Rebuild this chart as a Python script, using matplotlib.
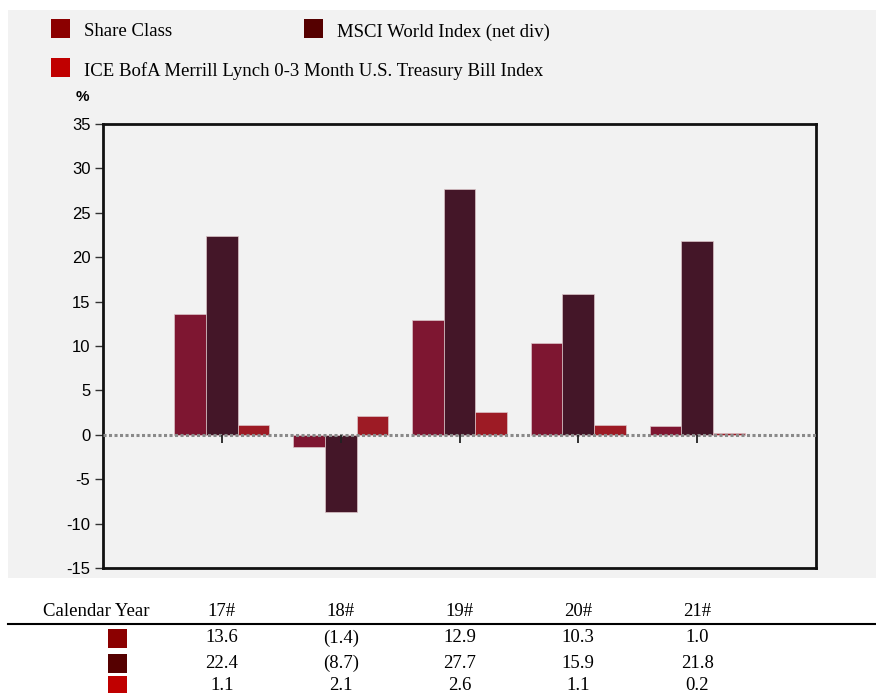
import matplotlib
matplotlib.use("Agg")
import matplotlib.pyplot as plt
import matplotlib.transforms as mtransforms
from matplotlib.patches import Rectangle
from matplotlib.lines import TICKDOWN
import numpy as np

years = ['17#', '18#', '19#', '20#', '21#']
series_names = ['Share Class', 'MSCI World Index (net div)',
                'ICE BofA Merrill Lynch 0-3 Month U.S. Treasury Bill Index']
share_class = [13.6, -1.4, 12.9, 10.3, 1.0]
msci_world = [22.4, -8.7, 27.7, 15.9, 21.8]
ice_tbill = [1.1, 2.1, 2.6, 1.1, 0.2]
y_ticks = [35, 30, 25, 20, 15, 10, 5, 0, -5, -10, -15]

bar_colors = ['#7e1631', '#441628', '#9d1b25']
key_colors = ['#8b0000', '#550000', '#c00000']

W, H = 876, 693
fig = plt.figure(figsize=(W / 100, H / 100), dpi=100)
fig.patch.set_facecolor('white')

def fx(px):
    return px / W

def fy(py):
    return 1 - py / H

# grey panel
fig.patches.append(Rectangle((fx(8), fy(578)), fx(876) - fx(8), fy(10) - fy(578),
                             transform=fig.transFigure, facecolor='#f2f2f2',
                             edgecolor='none', zorder=-5))

ax = fig.add_axes([fx(103), fy(568), fx(816) - fx(103), fy(124) - fy(568)])
ax.set_zorder(2)
ax.set_facecolor('#f2f2f2')
ax.set_xlim(-1, 5)
ax.set_ylim(-15, 35)

x = np.arange(len(years))
bw = 0.267
data = [share_class, msci_world, ice_tbill]
for i, (vals, c) in enumerate(zip(data, bar_colors)):
    ax.bar(x + (i - 1) * bw, vals, width=bw, color=c, edgecolor='#dcc4c8',
           linewidth=0.5, zorder=2)

ax.axhline(0, color='#8a8a8a', linewidth=2.2, linestyle=(0, (1, 0.8)), zorder=3)
ax.plot(x, np.zeros(len(x)), linestyle='none', marker=TICKDOWN, markersize=6,
        markeredgewidth=1.3, color='#222222', zorder=4)

ax.set_xticks([])
ax.set_yticks(y_ticks)
ax.set_yticklabels([str(v) for v in y_ticks], family='Liberation Sans', fontsize=12)
ax.tick_params(axis='y', length=6, width=1, color='#333333', pad=3)
for sp in ax.spines.values():
    sp.set_linewidth(2)
    sp.set_color('#111111')

fig.text(fx(82), fy(97), '%', family='Liberation Sans', fontweight='bold',
         fontsize=11, ha='center', va='center', zorder=5)

FS = 13.5
# legend
leg_items = [(51, 29, 0), (304, 29, 1), (51, 68, 2)]
for lx, ly, k in leg_items:
    fig.patches.append(Rectangle((fx(lx), fy(ly + 9)), fx(19), 19 / H,
                                 transform=fig.transFigure,
                                 facecolor=key_colors[k], edgecolor='none', zorder=5))
    fig.text(fx(lx + 33), fy(ly + 3), series_names[k], family='Liberation Serif',
             fontsize=FS, ha='left', va='center', zorder=5)

# table
tr = mtransforms.blended_transform_factory(ax.transData, fig.transFigure)
fig.text(fx(96), fy(611), 'Calendar Year', family='Liberation Serif',
         fontsize=FS, ha='center', va='center')
for xi, yr in zip(x, years):
    fig.text(xi, fy(611), yr, transform=tr, family='Liberation Serif',
             fontsize=FS, ha='center', va='center')
fig.add_artist(plt.Line2D([fx(8), 1], [fy(624), fy(624)], transform=fig.transFigure,
                          color='black', linewidth=1.5))

def fmt(v):
    return f'({abs(v):.1f})' if v < 0 else f'{v:.1f}'

row_y = [638, 663, 685]
for vals, ry, kc in zip(data, row_y, key_colors):
    fig.patches.append(Rectangle((fx(108), fy(ry + 10)), fx(19), 19 / H,
                                 transform=fig.transFigure, facecolor=kc,
                                 edgecolor='none'))
    for xi, v in zip(x, vals):
        fig.text(xi, fy(ry), fmt(v), transform=tr, family='Liberation Serif',
                 fontsize=FS, ha='center', va='center')

fig.savefig('out.png', dpi=100)
